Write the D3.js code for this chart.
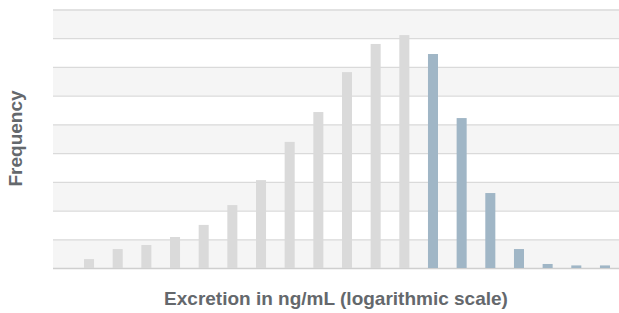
<!DOCTYPE html>
<html>
<head>
<meta charset="utf-8">
<script src="https://cdn.jsdelivr.net/npm/d3@7"></script>
<style>
  body { margin: 0; background: #fff; }
  text { font-family: "Liberation Sans", Arial, sans-serif; font-weight: bold; fill: #64686c; }
</style>
</head>
<body>
<div id="chart"></div>
<script>
// bins of the log-scale histogram, heights
var bins = d3.range(1, 20).map(String);
var counts = [3.1, 6.6, 8.0, 10.8, 15.0, 21.9, 30.6, 43.9, 54.3, 68.2, 78.0, 81.1, 74.5, 52.2, 26.1, 6.6, 1.4, 0.9, 0.9];
var highlighted = [false, false, false, false, false, false, false, false, false, false, false, false, true, true, true, true, true, true, true];
var yTicks = d3.range(0, 100, 10);

var width = 619, height = 313;
var plot = {left: 53, right: 619, top: 9.5, bottom: 268};

var svg = d3.select('#chart').append('svg')
  .attr('width', width)
  .attr('height', height);

var x = d3.scaleBand().domain(bins)
  .range([74.7, 619.3])
  .paddingInner(0.65)
  .paddingOuter(0.325);

var y = d3.scaleLinear().domain([0, 90]).range([plot.bottom, plot.top]);

// alternating bands, grey at the bottom
var bands = svg.append('g');
bands.selectAll('rect')
  .data(yTicks.slice(0, -1))
  .enter().append('rect')
    .attr('x', plot.left)
    .attr('width', plot.right - plot.left)
    .attr('y', d => y(d + 10))
    .attr('height', d => y(d) - y(d + 10))
    .style('fill', (d, i) => i % 2 == 0 ? '#f5f5f5' : '#ffffff');

var yAxis = d3.axisLeft(y).tickValues(yTicks)
  .tickSize(-(plot.right - plot.left)).tickFormat('');

var gy = svg.append('g')
  .attr('transform', 'translate(' + plot.left + ',0)')
  .call(yAxis);
gy.select('.domain').remove();
gy.selectAll('.tick line')
  .attr('stroke', d => d == 0 ? '#cfcfcf' : '#dadada')
  .attr('stroke-width', 1.3);

svg.append('g').selectAll('rect')
  .data(counts)
  .enter().append('rect')
    .attr('x', (d, i) => x(bins[i]))
    .attr('width', x.bandwidth())
    .attr('y', d => y(d))
    .attr('height', d => y(0) - y(d))
    .style('fill', (d, i) => highlighted[i] ? '#a0b6c6' : '#dadada');

svg.append('text')
  .attr('x', (plot.left + plot.right) / 2)
  .attr('y', 305)
  .attr('text-anchor', 'middle')
  .style('font-size', '19px')
  .text('Excretion in ng/mL (logarithmic scale)');

svg.append('text')
  .attr('transform', 'translate(22,138.5) rotate(-90)')
  .attr('text-anchor', 'middle')
  .style('font-size', '19px')
  .text('Frequency');
</script>
</body>
</html>
